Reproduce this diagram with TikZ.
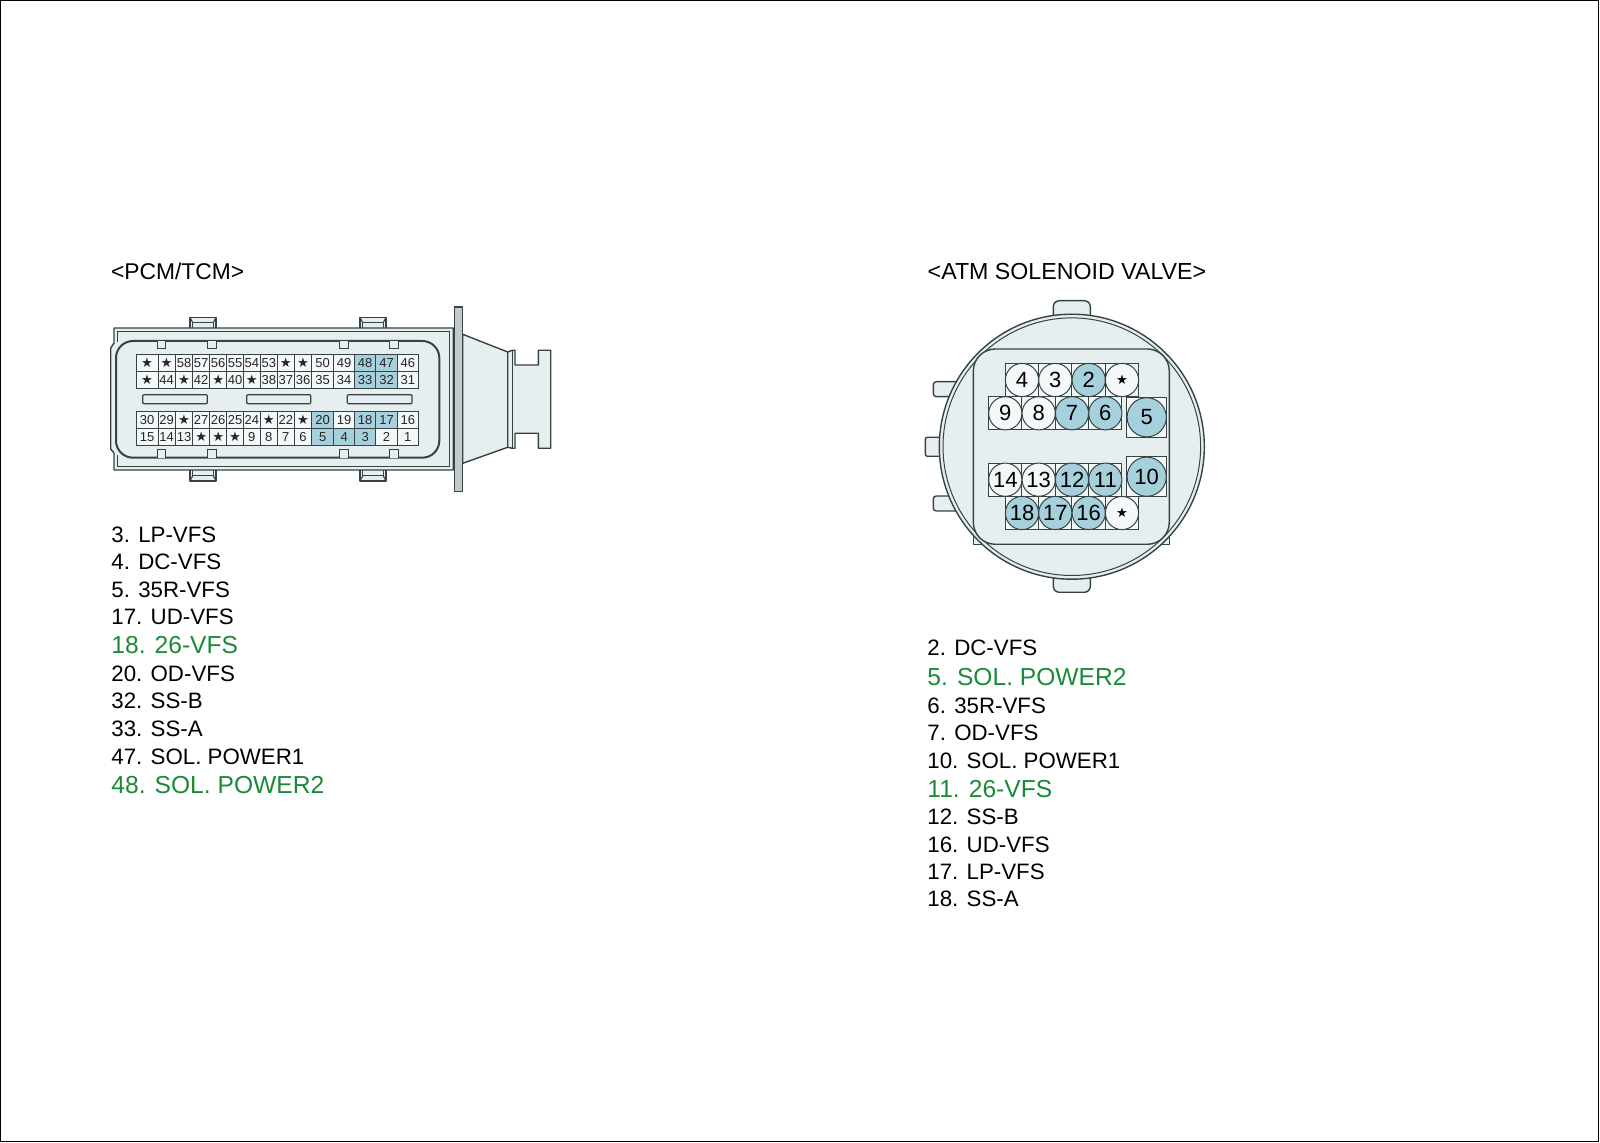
\documentclass[tikz,border=0pt]{standalone}
\usepackage{fontspec}
\setmainfont{Liberation Sans}
\newfontfamily\symf{DejaVu Sans}
\definecolor{bodyc}{HTML}{E6EEEF}
\definecolor{bluec}{HTML}{A6D0DB}
\definecolor{linec}{HTML}{354345}
\definecolor{greenc}{HTML}{1A8A38}
\newcommand{\pinfont}{\fontsize{6.5pt}{7pt}\selectfont}
\newcommand{\starpin}{{\symf\fontsize{6.6pt}{6pt}\selectfont ★}}
\newcommand{\starball}{{\symf\fontsize{6.6pt}{6pt}\selectfont ★}}
\def\starmark{S}
\tikzset{
  x=0.5pt,y=-0.5pt,
  shell/.style={draw=linec,fill=bodyc,line width=0.7pt,line join=round},
  hair/.style={draw=linec,line width=0.5pt},
  cell/.style={draw=linec,line width=0.5pt,fill=white!60!bodyc},
  bluecell/.style={draw=linec,line width=0.5pt,fill=bluec},
  pintext/.style={inner sep=0pt,font=\pinfont,text=black!85},
  ball/.style={circle,draw=linec,line width=0.5pt,fill=white!60!bodyc,minimum size=16.6pt,inner sep=0pt,font=\fontsize{11pt}{11pt}\selectfont},
  blueball/.style={ball,fill=bluec},
  bigball/.style={blueball,minimum size=19.6pt},
  title/.style={anchor=base west,inner sep=0pt,font=\fontsize{11.4pt}{12pt}\selectfont},
  item/.style={anchor=base west,inner sep=0pt,font=\fontsize{11.15pt}{12pt}\selectfont},
  gitem/.style={anchor=base west,inner sep=0pt,text=greenc,font=\fontsize{12.3pt}{13pt}\selectfont},
}
\begin{document}
\begin{tikzpicture}
\useasboundingbox (0,0) rectangle (1600,1143);
\draw[black,line width=0.7pt] (0.5,0.7) rectangle (1598.2,1141.7);

% PCM/TCM connector
\node[title] (pcmtitle) at (110.7,280) {<PCM/TCM>};
% rear part
\draw[shell] (462.7,334.3) -- (507.7,352) -- (507.7,447.3) -- (462.7,463.3) -- cycle;
\draw[shell] (507.7,352) -- (512.3,350.3) -- (515,350.3) -- (515,365) -- (538.3,365) -- (538.3,350.3) -- (550.7,350.3)
  -- (550.7,448.3) -- (538.3,448.3) -- (538.3,433.3) -- (515,433.3) -- (515,448.3) -- (512.3,448.3) -- (507.7,447.3) -- cycle;
\draw[hair] (512.3,350.3) -- (512.3,448.3);
\draw[shell,fill=bodyc!85!black] (454.7,307) rectangle (462.7,491.3);
% tabs
\foreach \x in {190,360}{
  \draw[shell] (\x,328) -- (\x,317.3) -- (\x+26,317.3) -- (\x+26,328);
  \draw[hair] (\x+2.7,328) -- (\x+2.7,322.5) -- (\x+23.3,322.5) -- (\x+23.3,328);
  \draw[hair] (\x,317.3) -- (\x+2.7,322.5) (\x+26,317.3) -- (\x+23.3,322.5);
  \draw[shell] (\x,470) -- (\x,481) -- (\x+26,481) -- (\x+26,470);
  \draw[hair] (\x+2.7,470) -- (\x+2.7,476) -- (\x+23.3,476) -- (\x+23.3,470);
  \draw[hair] (\x,481) -- (\x+2.7,476) (\x+26,481) -- (\x+23.3,476);
}
% housing
\draw[shell] (114,328) -- (453.3,328) -- (453.3,470) -- (114,470) -- (114,453) -- (110.7,449) -- (110.7,348) -- (114,343) -- cycle;
\draw[hair] (117.5,342) -- (117.5,331.7) -- (449.8,331.7) -- (449.8,466.6) -- (117.5,466.6) -- (117.5,455);
\draw[draw=linec,line width=1pt,fill=bodyc,rounded corners=8.5pt] (116,341) rectangle (439.3,457.7);
% notches
\foreach \x in {157.3,207.7,339.7,389.7}{
  \draw[hair,fill=bodyc] (\x,341) -- (\x,349) -- (\x+8.3,349) -- (\x+8.3,341);
  \draw[hair,fill=bodyc] (\x,457.7) -- (\x,449.3) -- (\x+8.3,449.3) -- (\x+8.3,457.7);
}
% slots
\foreach \x/\w in {142.7/64.6,246.7/64,347.3/64.7}{
  \draw[hair,line width=0.6pt,fill=bodyc,rounded corners=0.5pt] (\x,394.7) rectangle (\x+\w,403.7);
}
% pin cells
\def\colx{{136.3,158,175.3,192.7,209.7,226.7,243.3,260.3,277.3,294.3,311.7,333.7,354.7,375.7,397.3,418.3}}
\newcommand{\pinrow}[3]{% top y, bottom y, list
  \foreach \lab/\kind [count=\c from 0] in {#3}{
    \pgfmathsetmacro{\xa}{\colx[\c]}
    \pgfmathtruncatemacro{\cn}{\c+1}
    \pgfmathsetmacro{\xb}{\colx[\cn]}
    \edef\thislab{\lab}
    \ifnum\kind=1 \path[bluecell] (\xa,#1) rectangle (\xb,#2);
    \else \path[cell] (\xa,#1) rectangle (\xb,#2);\fi
    \ifx\thislab\starmark
      \node[pintext] (pin-#1-\c) at ({(\xa+\xb)/2},{(#1+#2)/2}) {\starpin};
    \else
      \node[pintext] (pin-#1-\c) at ({(\xa+\xb)/2},{(#1+#2)/2}) {\lab};
    \fi
  }
}
\pinrow{354.7}{371.7}{S/0,S/0,58/0,57/0,56/0,55/0,54/0,53/0,S/0,S/0,50/0,49/0,48/1,47/1,46/0}
\pinrow{371.7}{388.7}{S/0,44/0,S/0,42/0,S/0,40/0,S/0,38/0,37/0,36/0,35/0,34/0,33/1,32/1,31/0}
\pinrow{411.7}{428.7}{30/0,29/0,S/0,27/0,26/0,25/0,24/0,S/0,22/0,S/0,20/1,19/0,18/1,17/1,16/0}
\pinrow{428.7}{445.7}{15/0,14/0,13/0,S/0,S/0,S/0,9/0,8/0,7/0,6/0,5/1,4/1,3/1,2/0,1/0}

% PCM list
\node[item] (p1) at (111,542.3) {3. LP-VFS};
\node[item] (p2) at (111,569.7) {4. DC-VFS};
\node[item] (p3) at (111,597.3) {5. 35R-VFS};
\node[item] (p4) at (111,624.3) {17. UD-VFS};
\node[gitem] (p5) at (111,653.7) {18. 26-VFS};
\node[item] (p6) at (111,681.3) {20. OD-VFS};
\node[item] (p7) at (111,709) {32. SS-B};
\node[item] (p8) at (111,736.7) {33. SS-A};
\node[item] (p9) at (111,764) {47. SOL. POWER1};
\node[gitem] (p10) at (111,793.3) {48. SOL. POWER2};

% ATM solenoid valve
\node[title,font=\fontsize{11.6pt}{12pt}\selectfont] (atmtitle) at (927.3,280) {<ATM SOLENOID VALVE>};
\draw[shell,rounded corners=3pt] (1053.3,320) -- (1053.3,300.7) -- (1090.3,300.7) -- (1090.3,320);
\draw[shell,rounded corners=3pt] (1053.3,570) -- (1053.3,592.3) -- (1090.3,592.3) -- (1090.3,570);
\draw[shell,rounded corners=1.5pt] (960,381.7) -- (933.3,381.7) -- (933.3,396.7) -- (960,396.7);
\draw[shell,rounded corners=1pt] (960,437.3) -- (925.3,437.3) -- (925.3,456.3) -- (960,456.3);
\draw[shell,rounded corners=1.5pt] (960,496) -- (933.3,496) -- (933.3,511) -- (960,511);
\draw[shell] (973.3,500) rectangle (1169.3,544.3);
\draw[shell] (1071.8,446.7) circle[radius=66.25pt];
\draw[hair] (1071.8,446.7) circle[radius=64.4pt];
\draw[draw=linec,line width=0.7pt,fill=bodyc,rounded corners=11pt] (973.3,349) rectangle (1169.3,544.3);
% grids
\foreach \xa/\ya/\n in {1005.3/363.7/4,988.7/396.7/4,988.7/463.3/4,1005.3/496.3/4}{
  \foreach \i in {1,...,\n}{
    \draw[cell] ({\xa+(\i-1)*33.25},\ya) rectangle ({\xa+\i*33.25},\ya+33.2);
  }
}
\draw[cell] (1126.7,397.3) rectangle (1166.7,437.3);
\draw[cell] (1126.7,456.7) rectangle (1166.7,496.7);
\node[ball] (s4) at (1022,380) {4};
\node[ball] (s3) at (1055.3,380) {3};
\node[blueball] (s2) at (1088.7,380) {2};
\node[ball] (s1) at (1122,380) {\starball};
\node[ball] (s9) at (1005.3,413.3) {9};
\node[ball] (s8) at (1038.7,413.3) {8};
\node[blueball] (s7) at (1072,413.3) {7};
\node[blueball] (s6) at (1105.3,413.3) {6};
\node[ball] (s14) at (1005.3,479.7) {14};
\node[ball] (s13) at (1038.7,479.7) {13};
\node[blueball] (s12) at (1072,479.7) {12};
\node[blueball] (s11) at (1105.3,479.7) {11};
\node[blueball] (s18) at (1022,513) {18};
\node[blueball] (s17) at (1055.3,513) {17};
\node[blueball] (s16) at (1088.7,513) {16};
\node[ball] (s15) at (1122,513) {\starball};
\node[bigball] (s5) at (1146.7,417.3) {5};
\node[bigball] (s10) at (1146.7,476.7) {10};

% ATM list
\node[item] (a1) at (927,655.7) {2. DC-VFS};
\node[gitem] (a2) at (927,685.7) {5. SOL. POWER2};
\node[item] (a3) at (927,713) {6. 35R-VFS};
\node[item] (a4) at (927,740.3) {7. OD-VFS};
\node[item] (a5) at (927,768) {10. SOL. POWER1};
\node[gitem] (a6) at (927,797.3) {11. 26-VFS};
\node[item] (a7) at (927,824.7) {12. SS-B};
\node[item] (a8) at (927,852) {16. UD-VFS};
\node[item] (a9) at (927,879.3) {17. LP-VFS};
\node[item] (a10) at (927,906.7) {18. SS-A};
\end{tikzpicture}
\end{document}
